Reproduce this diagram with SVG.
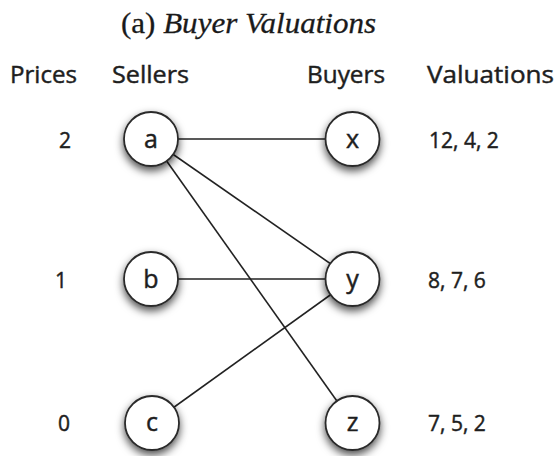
<svg xmlns="http://www.w3.org/2000/svg" width="557" height="456" viewBox="0 0 557 456">
<defs>
<filter id="sh" x="-50%" y="-50%" width="200%" height="200%">
<feDropShadow dx="0" dy="4" stdDeviation="4" flood-color="#000" flood-opacity="0.7"/>
</filter>
<style>
.bg{fill:#fff}
.title{font-family:"Liberation Serif","DejaVu Serif",serif;font-size:30px;fill:#1a1a1a;stroke:#1a1a1a;stroke-width:0.3}
.hdr{font-family:"Open Sans","Noto Sans",sans-serif;font-size:24px;fill:#1e1e1e;stroke:#1e1e1e;stroke-width:0.45}
.val{font-family:"Open Sans","Noto Sans",sans-serif;font-size:21px;fill:#1e1e1e;stroke:#1e1e1e;stroke-width:0.45}
.node circle{fill:#fff;stroke:#2a2a2a;stroke-width:1.8;filter:url(#sh)}
.node text{font-family:"Open Sans","Noto Sans",sans-serif;font-size:25px;fill:#1e1e1e;stroke:#1e1e1e;stroke-width:0.45;text-anchor:middle}
.edge{stroke:#222;stroke-width:1.6;fill:none}
</style>
</defs>
<rect class="bg" x="0" y="0" width="557" height="456"/>
<text class="title" x="121" y="33" textLength="255" lengthAdjust="spacingAndGlyphs">(a) <tspan font-style="italic">Buyer Valuations</tspan></text>
<g id="headers">
<text class="hdr" x="10" y="83" textLength="67" lengthAdjust="spacingAndGlyphs">Prices</text>
<text class="hdr" x="112" y="83" textLength="77" lengthAdjust="spacingAndGlyphs">Sellers</text>
<text class="hdr" x="307" y="83" textLength="78" lengthAdjust="spacingAndGlyphs">Buyers</text>
<text class="hdr" x="427" y="83" textLength="127" lengthAdjust="spacingAndGlyphs">Valuations</text>
</g>
<g id="prices">
<text class="val" x="65" y="148" text-anchor="middle">2</text>
<text class="val" x="61" y="288" text-anchor="middle">1</text>
<text class="val" x="64" y="431" text-anchor="middle">0</text>
</g>
<g id="valuations">
<text class="val" x="429" y="148">12, 4, 2</text>
<text class="val" x="428" y="288">8, 7, 6</text>
<text class="val" x="428" y="431">7, 5, 2</text>
</g>
<g id="edges">
<line class="edge" x1="151" y1="139" x2="352.5" y2="139"/>
<line class="edge" x1="151" y1="139" x2="352.5" y2="279"/>
<line class="edge" x1="151" y1="139" x2="352.5" y2="423"/>
<line class="edge" x1="151" y1="279" x2="352.5" y2="279"/>
<line class="edge" x1="152" y1="423" x2="352.5" y2="279"/>
</g>
<g id="node-a" class="node"><circle cx="151" cy="139" r="27"/><text x="151" y="148">a</text></g>
<g id="node-b" class="node"><circle cx="151" cy="279" r="27"/><text x="151" y="288">b</text></g>
<g id="node-c" class="node"><circle cx="152" cy="423" r="27"/><text x="152" y="431">c</text></g>
<g id="node-x" class="node"><circle cx="352.5" cy="139" r="27"/><text x="352.5" y="148">x</text></g>
<g id="node-y" class="node"><circle cx="352.5" cy="279" r="27"/><text x="352.5" y="288">y</text></g>
<g id="node-z" class="node"><circle cx="352.5" cy="423" r="27"/><text x="352.5" y="431">z</text></g>
</svg>
